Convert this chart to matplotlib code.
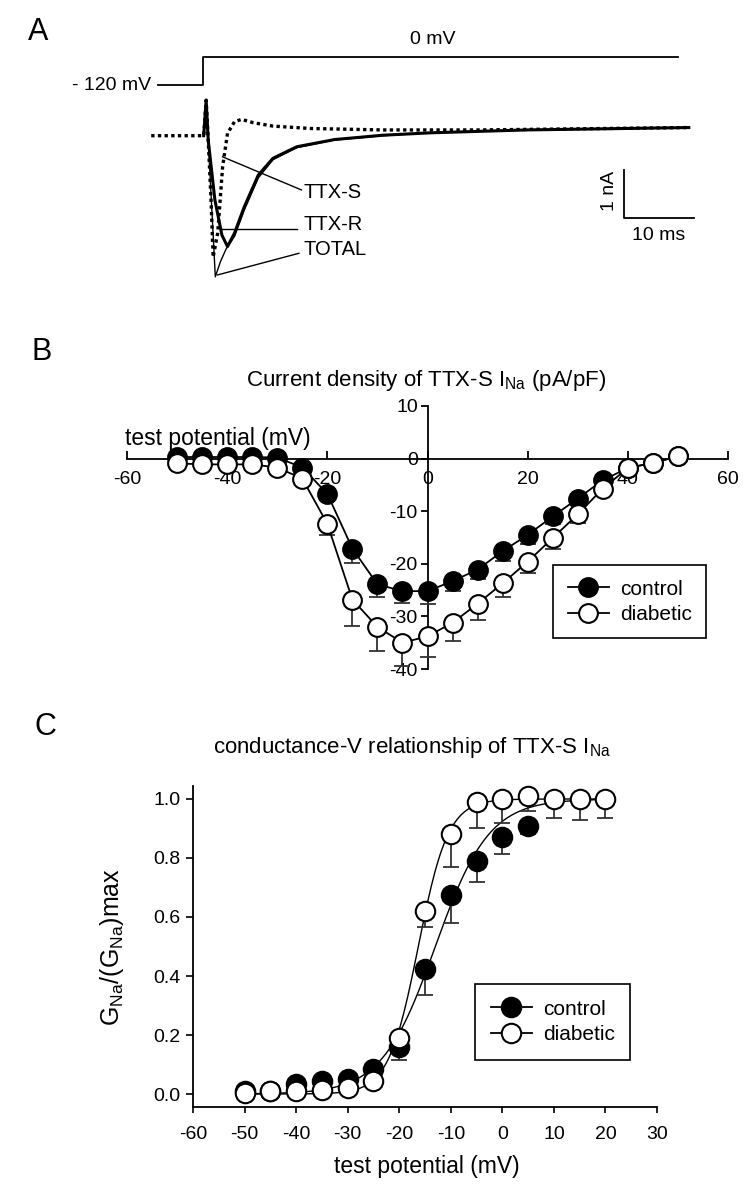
import matplotlib
matplotlib.use("Agg")
import matplotlib.pyplot as plt
import numpy as np

plt.rcParams['font.family'] = ['Liberation Sans', 'DejaVu Sans']
plt.rcParams['mathtext.fontset'] = 'custom'
plt.rcParams['mathtext.rm'] = 'Liberation Sans'
plt.rcParams['mathtext.default'] = 'rm'
plt.rcParams['axes.unicode_minus'] = False

# ---- panel A: example traces (ms, nA) ----
step_t = [-6.5, 0, 0, 67.9]
step_mv = [-120, -120, 0, 0]

ttxs_t = [-7.4, -0.6, 0.1, 0.45, 0.75, 1.15, 1.45, 2.1, 2.8, 3.5, 4.5, 5.5, 7.2, 10.0, 15.4, 25.7, 39.4, 69.4]
ttxs_i = [0, 0, 0, 0.74, -0.1, -1.34, -2.53, -2.03, -0.65, 0.05, 0.29, 0.34, 0.27, 0.2, 0.15, 0.12, 0.12, 0.17]

ttxr_t = [0.1, 0.45, 0.75, 1.7, 2.7, 3.5, 4.5, 5.9, 7.9, 10.0, 13.4, 18.8, 25.7, 32.5, 46.2, 69.4]
ttxr_i = [0, 0.74, -0.1, -1.34, -2.07, -2.31, -2.03, -1.48, -0.82, -0.47, -0.23, -0.08, 0.01, 0.06, 0.12, 0.17]

total_t = [0.1, 0.45, 1.76, 2.5, 3.3, 4.5, 5.9, 7.9, 10.0, 13.4, 18.8, 25.7, 32.5, 46.2, 69.4]
total_i = [0, 0.74, -2.94, -2.62, -2.36, -2.1, -1.55, -0.88, -0.5, -0.25, -0.09, 0.0, 0.06, 0.12, 0.17]

# ---- panel B: current density (pA/pF) ----
volt_b = [-50, -45, -40, -35, -30, -25, -20, -15, -10, -5, 0, 5, 10, 15, 20, 25, 30, 35, 40, 45, 50]
control_b = [0.3, 0.3, 0.3, 0.3, 0.2, -1.7, -6.7, -17.1, -23.9, -25.2, -25.2, -23.3, -21.1, -17.6,
             -14.5, -11.0, -7.6, -4.1, -1.8, -0.8, 0.4]
control_b_err = [0, 0, 0, 0, 0, 0.5, 0.8, 2.8, 2.5, 2.2, 2.4, 1.9, 1.8, 1.8, 1.7, 1.5, 1.3, 0.8, 0, 0, 0]
diabetic_b = [-0.9, -1.1, -1.1, -1.1, -1.7, -3.8, -12.4, -26.8, -32.0, -35.0, -33.8, -31.2, -27.6,
              -23.7, -19.6, -15.1, -10.6, -5.7, -1.8, -0.8, 0.4]
diabetic_b_err = [0, 0, 0, 0, 0, 0.4, 2.2, 5.0, 4.6, 4.5, 4.0, 3.5, 3.1, 2.7, 2.2, 2.0, 1.6, 0.8, 0.3, 0, 0]

# ---- panel C: normalised conductance ----
volt_c = [-50, -45, -40, -35, -30, -25, -20, -15, -10, -5, 0, 5, 10, 15, 20]
control_c = [0.01, 0.01, 0.035, 0.045, 0.05, 0.085, 0.16, 0.425, 0.675, 0.79, 0.87, 0.91]
control_c_err = [0, 0, 0, 0, 0, 0, 0.045, 0.09, 0.095, 0.07, 0.055, 0.03]
diabetic_c = [0.005, 0.01, 0.01, 0.015, 0.02, 0.045, 0.19, 0.62, 0.88, 0.99, 1.0, 1.01, 1.0, 1.0, 1.0]
diabetic_c_err = [0, 0, 0, 0, 0, 0, 0, 0.055, 0.11, 0.09, 0.08, 0.05, 0.065, 0.07, 0.065]
# Boltzmann fit parameters (V1/2, slope k)
fit_control = (-13.0, 5.2)
fit_diabetic = (-16.3, 2.9)

W, H = 751, 1199
fig = plt.figure(figsize=(W / 100, H / 100), dpi=100)


def px_box(x0, y0, x1, y1):
    return [x0 / W, 1 - y1 / H, (x1 - x0) / W, (y1 - y0) / H]


def ftext(x, y, s, **kw):
    fig.text(x / W, 1 - y / H, s, **kw)


FS = 14      # tick labels
FL = 15      # legend / trace labels
FT = 16      # titles

# ================= A =================
axv = fig.add_axes(px_box(147, 45, 707, 95))
axv.set_xlim(-8, 72)
axv.set_ylim(-162.9, 51.4)
axv.axis('off')
axv.plot(step_t, step_mv, color='k', lw=1.3)

axa = fig.add_axes(px_box(147, 87.7, 707, 289.3))
axa.set_xlim(-8, 72)
axa.set_ylim(-3.2, 1.0)
axa.axis('off')
axa.plot(ttxr_t, ttxr_i, color='k', lw=2.2)
axa.plot(total_t, total_i, color='k', lw=1.0)
axa.plot(ttxs_t, ttxs_i, color='k', lw=2.4, ls=(0, (1, 1)))

# leader lines + labels
axa.plot([2.79, 14.06], [-0.44, -1.13], color='k', lw=1)
axa.plot([2.57, 13.4], [-1.95, -1.95], color='k', lw=1)
axa.plot([2.1, 13.7], [-2.9, -2.45], color='k', lw=1)
axa.text(14.4, -1.19, 'TTX-S', fontsize=14.5, va='center', ha='left')
axa.text(14.4, -1.84, 'TTX-R', fontsize=14.5, va='center', ha='left')
axa.text(14.4, -2.38, 'TOTAL', fontsize=14.5, va='center', ha='left')

# scale bars: 10 ms, 1 nA
axa.plot([60.14, 60.14, 70.14], [-0.715, -1.715, -1.715], color='k', lw=1.3)
axa.text(58.0, -1.15, '1 nA', rotation=90, fontsize=14, ha='center', va='center')
axa.text(65.1, -2.07, '10 ms', fontsize=14, ha='center', va='center')

ftext(433, 40, '0 mV', fontsize=14, ha='center', va='center')
ftext(151, 85, '- 120 mV', fontsize=14, ha='right', va='center')
ftext(38, 32, 'A', fontsize=22, ha='center', va='center')

# ================= B =================
axb = fig.add_axes(px_box(127, 406, 728, 669))
axb.set_xlim(-60, 60)
axb.set_ylim(-40, 10)
for s in ['top', 'right']:
    axb.spines[s].set_visible(False)
axb.spines['left'].set_position(('data', 0))
axb.spines['bottom'].set_position(('data', 0))
for s in ['left', 'bottom']:
    axb.spines[s].set_linewidth(1.3)
axb.set_xticks([-60, -40, -20, 0, 20, 40, 60])
axb.set_yticks([10, 0, -10, -20, -30, -40])
axb.tick_params(axis='x', direction='in', length=6, width=1.3, pad=9, labelsize=FS)
axb.tick_params(axis='y', direction='out', length=5, width=1.3, pad=2, labelsize=FS)

axb.errorbar(volt_b, control_b, yerr=[control_b_err, np.zeros(len(control_b))], fmt='none',
             ecolor='#333333', elinewidth=1.3, capsize=6, capthick=1.3, zorder=3)
axb.errorbar(volt_b, diabetic_b, yerr=[diabetic_b_err, np.zeros(len(diabetic_b))], fmt='none',
             ecolor='#333333', elinewidth=1.3, capsize=6, capthick=1.3, zorder=3)
hc, = axb.plot(volt_b, control_b, '-o', color='k', lw=1.3, ms=13.5, mfc='k', mec='k', mew=1.5,
               zorder=4, clip_on=False, label='control')
hd, = axb.plot(volt_b, diabetic_b, '-o', color='k', lw=1.3, ms=13.5, mfc='white', mec='k', mew=1.5,
               zorder=5, clip_on=False, label='diabetic')
legb = axb.legend(handles=[hc, hd], loc='upper left', bbox_to_anchor=(553 / W, 1 - 565 / H),
                  bbox_transform=fig.transFigure, fancybox=False, edgecolor='k', framealpha=1,
                  fontsize=FL, handlelength=2.0, handletextpad=0.5, borderpad=0.7, labelspacing=0.3,
                  borderaxespad=0)
legb.get_frame().set_linewidth(1.2)

ftext(426, 381, 'Current density of TTX-S I$_{Na}$ (pA/pF)', fontsize=FT, ha='center', va='center')
ftext(125, 438, 'test potential (mV)', fontsize=16.5, ha='left', va='center')
ftext(42, 352, 'B', fontsize=22, ha='center', va='center')

# ================= C =================
axc = fig.add_axes(px_box(193, 786, 657, 1107))
axc.set_xlim(-60, 30)
axc.set_ylim(-0.044, 1.044)
for s in ['top', 'right']:
    axc.spines[s].set_visible(False)
for s in ['left', 'bottom']:
    axc.spines[s].set_linewidth(1.3)
axc.set_xticks(np.arange(-60, 31, 10))
axc.set_yticks([0.0, 0.2, 0.4, 0.6, 0.8, 1.0])
axc.set_yticklabels(['0.0', '0.2', '0.4', '0.6', '0.8', '1.0'])
axc.tick_params(axis='x', direction='out', length=4, width=1.2, pad=10, labelsize=FS)
axc.tick_params(axis='y', direction='out', length=5, width=1.2, pad=4, labelsize=FS)

vfit = np.linspace(volt_c[0], volt_c[-1], 200)
for (vh, k) in (fit_control, fit_diabetic):
    axc.plot(vfit, 1 / (1 + np.exp((vh - vfit) / k)), color='k', lw=1.0, zorder=2)

vc = volt_c[:len(control_c)]
axc.errorbar(vc, control_c, yerr=[control_c_err, np.zeros(len(control_c))], fmt='none',
             ecolor='#333333', elinewidth=1.3, capsize=6, capthick=1.3, zorder=3)
axc.errorbar(volt_c, diabetic_c, yerr=[diabetic_c_err, np.zeros(len(diabetic_c))], fmt='none',
             ecolor='#333333', elinewidth=1.3, capsize=6, capthick=1.3, zorder=3)
axc.plot(vc, control_c, 'o', ms=14, mfc='k', mec='k', mew=1.5, zorder=4, clip_on=False)
axc.plot(volt_c, diabetic_c, 'o', ms=14, mfc='white', mec='k', mew=1.5, zorder=5, clip_on=False)

hc2, = axc.plot([], [], '-o', color='k', lw=1.3, ms=14, mfc='k', mec='k', mew=1.5, label='control')
hd2, = axc.plot([], [], '-o', color='k', lw=1.3, ms=14, mfc='white', mec='k', mew=1.5, label='diabetic')
legc = axc.legend(handles=[hc2, hd2], loc='upper left', bbox_to_anchor=(475 / W, 1 - 984 / H),
                  bbox_transform=fig.transFigure, fancybox=False, edgecolor='k', framealpha=1,
                  fontsize=FL, handlelength=2.0, handletextpad=0.5, borderpad=0.75, labelspacing=0.3,
                  borderaxespad=0)
legc.get_frame().set_linewidth(1.2)

ftext(412, 747, 'conductance-V relationship of TTX-S I$_{Na}$', fontsize=FT, ha='center', va='center')
ftext(112, 947, 'G$_{Na}$/(G$_{Na}$)max', fontsize=18, rotation=90, ha='center', va='center')
ftext(427, 1167, 'test potential (mV)', fontsize=16.5, ha='center', va='center')
ftext(45, 727, 'C', fontsize=22, ha='center', va='center')

fig.savefig('out.png', dpi=100)
